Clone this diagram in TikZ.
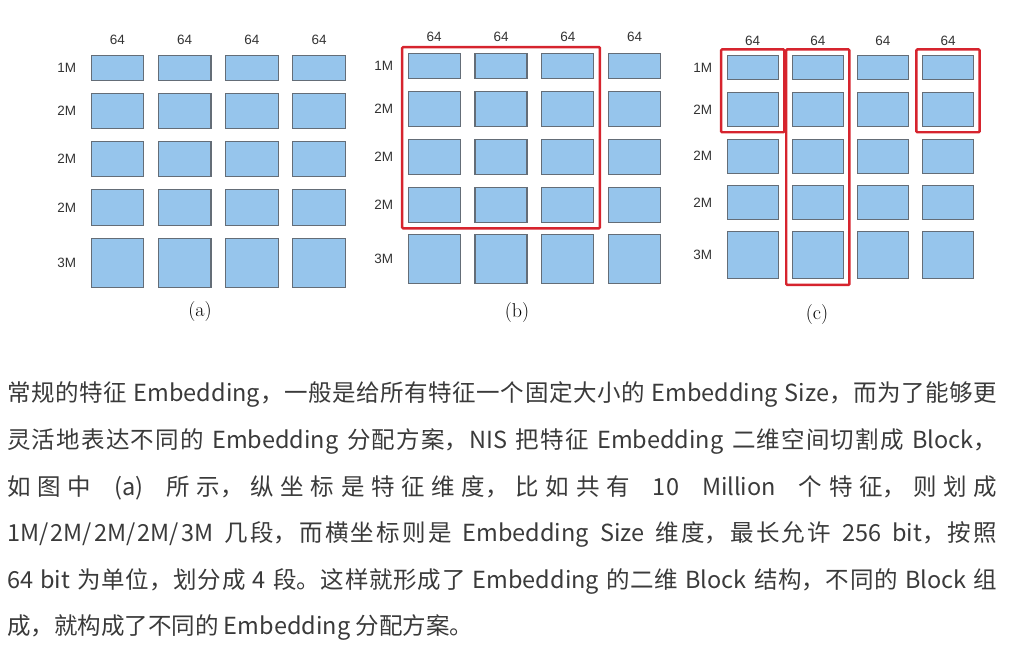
\documentclass[tikz,border=0pt]{standalone}
\usepackage{fontspec}
\newfontfamily\cjk{Noto Sans CJK SC}
\newfontfamily\lblfont{Liberation Sans}
\usetikzlibrary{fit}
\definecolor{blkblue}{RGB}{150,197,236}
\definecolor{blkedge}{RGB}{100,109,119}
\definecolor{selred}{RGB}{214,36,46}
\definecolor{bodytext}{RGB}{58,58,58}
\XeTeXlinebreaklocale "zh"
\XeTeXlinebreakskip=0pt plus 1pt
\tikzset{
  blk/.style={draw=blkedge, fill=blkblue, line width=1.2pt, inner sep=0pt},
  rowlab/.style={font=\lblfont\fontsize{13.5}{15}\selectfont, text=black!80},
  collab/.style={font=\lblfont\fontsize{13.5}{15}\selectfont, text=black!80},
  caption/.style={font=\fontsize{20}{22}\selectfont},
  selbox/.style={draw=selred, line width=2.4pt, inner sep=5.5pt, rounded corners=1pt},
  para/.style={anchor=base west, inner sep=0pt,
    font=\cjk\fontsize{23.5}{28}\selectfont, text=bodytext}
}
% one full justified line of the text below
\newcommand{\fullline}[1]{\parbox[b]{990pt}{\parfillskip=0pt\noindent #1}}
% #1 name, #2 left x, #3 column pitch, #4 block width, #5 y of the 64s, #6 rows
\newcommand{\blockgrid}[6]{
  \foreach \lab/\ytop/\ybot [count=\r] in {#6} {
    \node[rowlab] (#1-lab-\r) at (#2-24, {(\ytop+\ybot)/2}) {\lab};
    \foreach \c in {1,...,4}
      \node[blk, minimum width=#4-1, minimum height={\ybot-\ytop-1}]
        (#1-\r-\c) at ({#2+(\c-1)*#3+#4/2}, {(\ytop+\ybot)/2}) {};
  }
  \foreach \c in {1,...,4}
    \node[collab] (#1-top-\c) at ({#2+(\c-1)*#3+#4/2}, #5) {64};
}

\begin{document}
\begin{tikzpicture}[x=1pt, y=-1pt]
    \useasboundingbox (0,0) rectangle (1011,655);

    % (a)
    \blockgrid{a}{90.7}{67.2}{53.5}{40}{1M/55/80.7, 2M/92.7/129.3, 2M/141/177.3, 2M/189.3/225.7, 3M/237.7/287.7}
    \node[caption] (cap-a) at (200,312) {(a)};

    % (b)
    \blockgrid{b}{407.7}{66.8}{53}{37.3}{1M/52.7/78.7, 2M/90.7/127.3, 2M/139/174.7, 2M/186.7/222.7, 3M/234.3/284}
    \node[caption] (cap-b) at (517,313) {(b)};
    \node[selbox, fit=(b-1-1)(b-4-3)] (b-sel) {};

    % (c)
    \blockgrid{c}{726.7}{65.1}{52}{40.7}{1M/55/80, 2M/92/126.7, 2M/138.7/173.7, 2M/185.3/220, 3M/231.3/279.3}
    \node[caption] (cap-c) at (817,315) {(c)};
    \node[selbox, fit=(c-1-1)(c-2-1)] (c-sel1) {};
    \node[selbox, fit=(c-1-2)(c-5-2)] (c-sel2) {};
    \node[selbox, fit=(c-1-4)(c-2-4)] (c-sel3) {};

    % text below
    \node[para] (line1) at (7,401.5) {\fullline{常规的特征 Embedding，一般是给所有特征一个固定大小的 Embedding Size，而为了能够更}};
    \node[para] (line2) at (7,448.5) {\fullline{灵活地表达不同的 Embedding 分配方案，NIS 把特征 Embedding 二维空间切割成 Block，}};
    \node[para] (line3) at (7,495) {\fullline{如图中 (a) 所示，纵坐标是特征维度，比如共有 10 Million 个特征，则划成}};
    \node[para] (line4) at (7,541.5) {\fullline{1M/2M/2M/2M/3M 几段，而横坐标则是 Embedding Size 维度，最长允许 256 bit，按照}};
    \node[para] (line5) at (7,588) {\fullline{64 bit 为单位，划分成 4 段。这样就形成了 Embedding 的二维 Block 结构，不同的 Block 组}};
    \node[para] (line6) at (7,634.5) {成，就构成了不同的 Embedding 分配方案。};
\end{tikzpicture}
\end{document}
